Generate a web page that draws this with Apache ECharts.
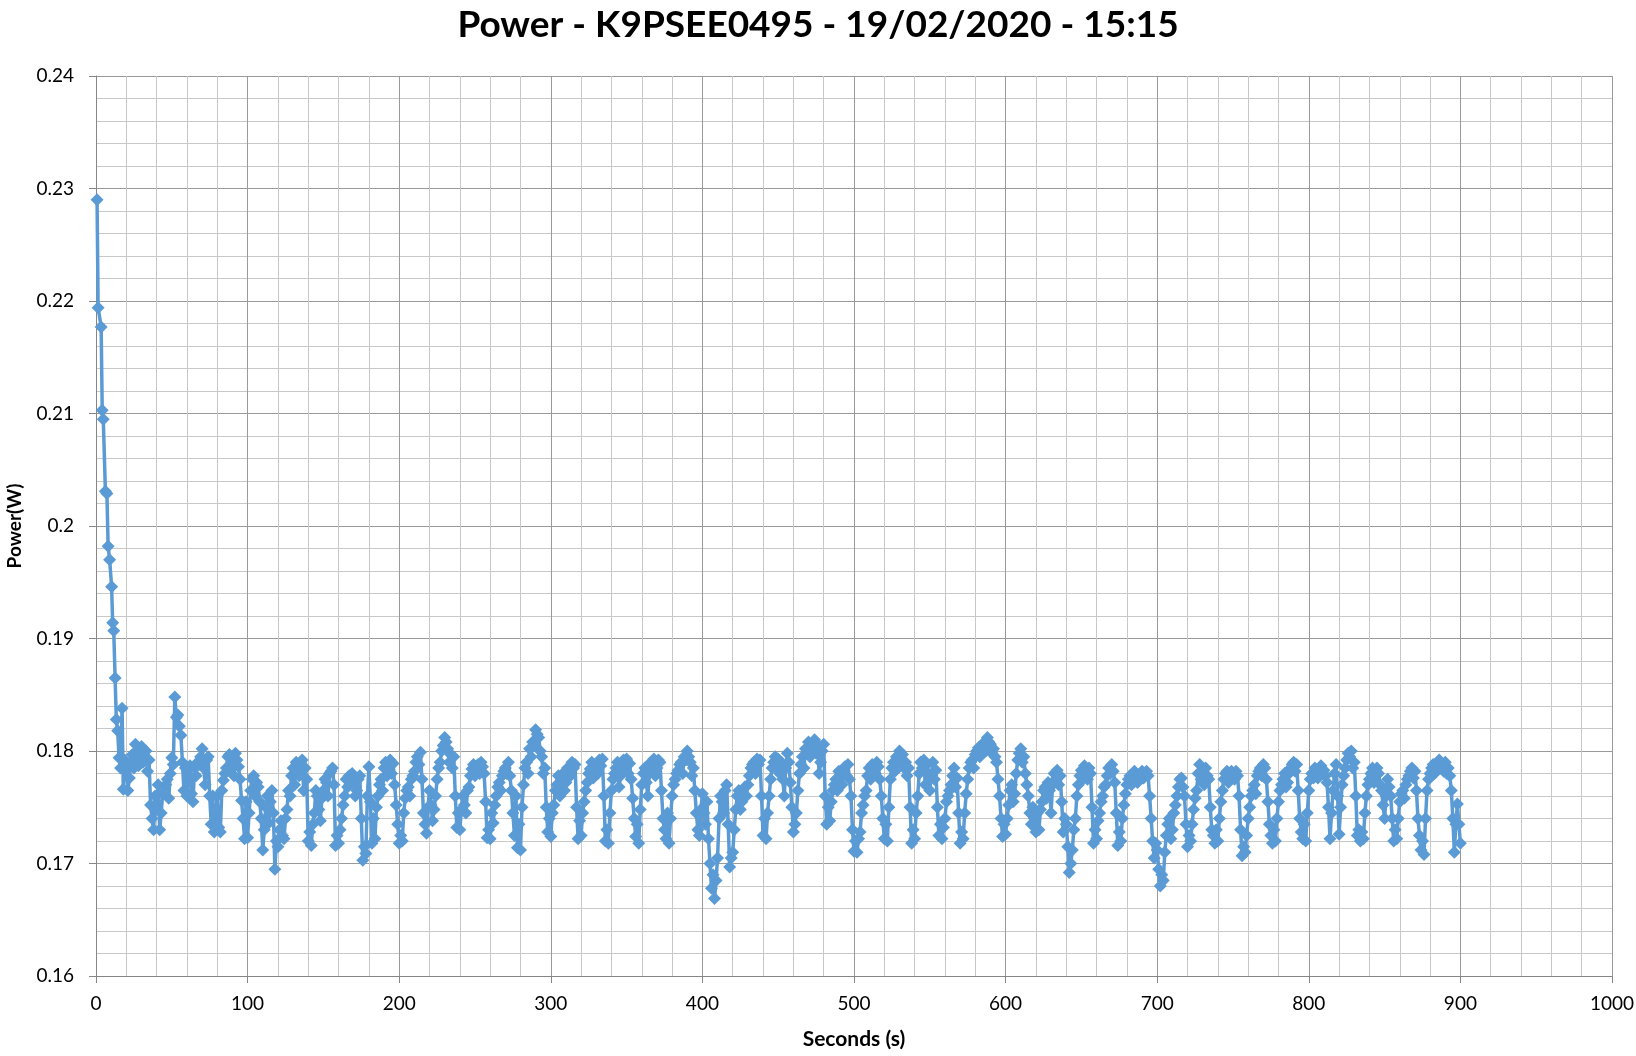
<!DOCTYPE html>
<html>
<head>
<meta charset="utf-8">
<script src="https://cdn.jsdelivr.net/npm/echarts@6/dist/echarts.min.js"></script>
<style>
html,body{margin:0;padding:0;background:#fff;}
#chart{width:1636px;height:1056px;}
</style>
</head>
<body>
<div id="chart"></div>
<script>
const chartTitle = 'Power - K9PSEE0495 - 19/02/2020 - 15:15';
const xAxisName = 'Seconds (s)';
const yAxisName = 'Power(W)';

const seconds = [
  0.7,1.4,3.4,4.1,4.8,6.2,7.2,8.0,9.0,10.3,11.0,11.7,12.6,13.4,14.3,15.2,16.2,17.2,
  18,19,20,21,22,23,24,25,26,27,28,29,30,31,32,33,34,35,36,37,
  38,39,40,41,42,43,44,45,46,47,48,49,50,51,52,53,54,55,56,57,
  58,59,60,61,62,63,64,65,66,67,68,69,70,71,72,73,74,75,76,77,
  78,79,80,81,82,83,84,85,86,87,88,89,90,91,92,93,94,95,96,97,
  98,99,100,101,102,103,104,105,106,107,108,109,110,111,112,113,114,115,116,117,
  118,119,120,121,122,123,124,125,126,127,128,129,130,131,132,133,134,135,136,137,
  138,139,140,141,142,143,144,145,146,147,148,149,150,151,152,153,154,155,156,157,
  158,159,160,161,162,163,164,165,166,167,168,169,170,171,172,173,174,175,176,177,
  178,179,180,181,182,183,184,185,186,187,188,189,190,191,192,193,194,195,196,197,
  198,199,200,201,202,203,204,205,206,207,208,209,210,211,212,213,214,215,216,217,
  218,219,220,221,222,223,224,225,226,227,228,229,230,231,232,233,234,235,236,237,
  238,239,240,241,242,243,244,245,246,247,248,249,250,251,252,253,254,255,256,257,
  258,259,260,261,262,263,264,265,266,267,268,269,270,271,272,273,274,275,276,277,
  278,279,280,281,282,283,284,285,286,287,288,289,290,291,292,293,294,295,296,297,
  298,299,300,301,302,303,304,305,306,307,308,309,310,311,312,313,314,315,316,317,
  318,319,320,321,322,323,324,325,326,327,328,329,330,331,332,333,334,335,336,337,
  338,339,340,341,342,343,344,345,346,347,348,349,350,351,352,353,354,355,356,357,
  358,359,360,361,362,363,364,365,366,367,368,369,370,371,372,373,374,375,376,377,
  378,379,380,381,382,383,384,385,386,387,388,389,390,391,392,393,394,395,396,397,
  398,399,400,401,402,403,404,405,406,407,408,409,410,411,412,413,414,415,416,417,
  418,419,420,421,422,423,424,425,426,427,428,429,430,431,432,433,434,435,436,437,
  438,439,440,441,442,443,444,445,446,447,448,449,450,451,452,453,454,455,456,457,
  458,459,460,461,462,463,464,465,466,467,468,469,470,471,472,473,474,475,476,477,
  478,479,480,481,482,483,484,485,486,487,488,489,490,491,492,493,494,495,496,497,
  498,499,500,501,502,503,504,505,506,507,508,509,510,511,512,513,514,515,516,517,
  518,519,520,521,522,523,524,525,526,527,528,529,530,531,532,533,534,535,536,537,
  538,539,540,541,542,543,544,545,546,547,548,549,550,551,552,553,554,555,556,557,
  558,559,560,561,562,563,564,565,566,567,568,569,570,571,572,573,574,575,576,577,
  578,579,580,581,582,583,584,585,586,587,588,589,590,591,592,593,594,595,596,597,
  598,599,600,601,602,603,604,605,606,607,608,609,610,611,612,613,614,615,616,617,
  618,619,620,621,622,623,624,625,626,627,628,629,630,631,632,633,634,635,636,637,
  638,639,640,641,642,643,644,645,646,647,648,649,650,651,652,653,654,655,656,657,
  658,659,660,661,662,663,664,665,666,667,668,669,670,671,672,673,674,675,676,677,
  678,679,680,681,682,683,684,685,686,687,688,689,690,691,692,693,694,695,696,697,
  698,699,700,701,702,703,704,705,706,707,708,709,710,711,712,713,714,715,716,717,
  718,719,720,721,722,723,724,725,726,727,728,729,730,731,732,733,734,735,736,737,
  738,739,740,741,742,743,744,745,746,747,748,749,750,751,752,753,754,755,756,757,
  758,759,760,761,762,763,764,765,766,767,768,769,770,771,772,773,774,775,776,777,
  778,779,780,781,782,783,784,785,786,787,788,789,790,791,792,793,794,795,796,797,
  798,799,800,801,802,803,804,805,806,807,808,809,810,811,812,813,814,815,816,817,
  818,819,820,821,822,823,824,825,826,827,828,829,830,831,832,833,834,835,836,837,
  838,839,840,841,842,843,844,845,846,847,848,849,850,851,852,853,854,855,856,857,
  858,859,860,861,862,863,864,865,866,867,868,869,870,871,872,873,874,875,876,877,
  878,879,880,881,882,883,884,885,886,887,888,889,890,891,892,893,894,895,896,897,
  898,899,900
];

const power = [
  0.2290,0.2194,0.2177,0.2103,0.2095,0.2031,0.2029,0.1982,0.1970,0.1946,0.1914,0.1907,0.1865,0.1828,0.1818,0.1794,0.1785,0.1838,
  // 18 - 92
  0.1766,0.1792,0.1788,0.1765,0.1776,0.1790,0.1797,0.1785,0.1806,0.1798,
  0.1787,0.1800,0.1804,0.1790,0.1795,0.1800,0.1782,0.1792,0.1752,0.1740,
  0.1730,0.1760,0.1748,0.1770,0.1730,0.1745,0.1762,0.1768,0.1770,0.1775,
  0.1758,0.1780,0.1794,0.1788,0.1848,0.1830,0.1832,0.1822,0.1814,0.1790,
  0.1765,0.1785,0.1760,0.1778,0.1787,0.1762,0.1755,0.1785,0.1778,0.1790,
  0.1788,0.1795,0.1802,0.1785,0.1770,0.1792,0.1795,0.1760,0.1735,0.1760,
  0.1728,0.1745,0.1760,0.1732,0.1728,0.1765,0.1774,0.1780,0.1785,0.1795,
  0.1797,0.1785,0.1790,0.1778,0.1798,
  // 93 - 180
  0.1792,0.1786,0.1775,0.1756,0.1740,0.1722,0.1755,0.1723,0.1745,0.1765,
  0.1775,0.1778,0.1760,0.1772,0.1768,0.1755,0.1740,0.1712,0.1730,0.1750,
  0.1760,0.1736,0.1755,0.1765,0.1745,0.1695,0.1720,0.1715,0.1730,0.1738,
  0.1725,0.1722,0.1740,0.1748,0.1765,0.1760,0.1778,0.1785,0.1770,0.1790,
  0.1788,0.1778,0.1790,0.1792,0.1765,0.1785,0.1775,0.1720,0.1728,0.1716,
  0.1735,0.1745,0.1765,0.1760,0.1748,0.1738,0.1758,0.1765,0.1775,0.1772,
  0.1760,0.1780,0.1782,0.1785,0.1770,0.1716,0.1725,0.1718,0.1730,0.1740,
  0.1752,0.1760,0.1775,0.1768,0.1778,0.1772,0.1780,0.1777,0.1760,0.1765,
  0.1775,0.1778,0.1740,0.1703,0.1715,0.1709,0.1760,0.1786,
  // 181 - 272
  0.1755,0.1718,0.1740,0.1722,0.1750,0.1760,0.1770,0.1775,0.1765,0.1785,
  0.1790,0.1778,0.1788,0.1792,0.1780,0.1789,0.1770,0.1752,0.1735,0.1718,
  0.1725,0.1720,0.1745,0.1758,0.1765,0.1768,0.1760,0.1775,0.1778,0.1782,
  0.1790,0.1795,0.1788,0.1799,0.1775,0.1745,0.1735,0.1727,0.1750,0.1765,
  0.1752,0.1738,0.1748,0.1760,0.1775,0.1785,0.1790,0.1800,0.1805,0.1812,
  0.1808,0.1802,0.1790,0.1797,0.1785,0.1795,0.1760,0.1732,0.1745,0.1730,
  0.1748,0.1760,0.1752,0.1745,0.1765,0.1768,0.1778,0.1784,0.1788,0.1778,
  0.1785,0.1788,0.1780,0.1790,0.1786,0.1780,0.1755,0.1723,0.1730,0.1722,
  0.1745,0.1736,0.1752,0.1760,0.1768,0.1772,0.1765,0.1778,0.1782,0.1785,
  0.1780,0.1790,
  // 273 - 362
  0.1778,0.1765,0.1745,0.1725,0.1760,0.1714,0.1735,0.1712,0.1750,0.1770,
  0.1785,0.1790,0.1780,0.1802,0.1795,0.1808,0.1805,0.1819,0.1815,0.1812,
  0.1800,0.1795,0.1780,0.1785,0.1750,0.1728,0.1740,0.1724,0.1745,0.1752,
  0.1765,0.1770,0.1778,0.1760,0.1775,0.1780,0.1765,0.1772,0.1785,0.1782,
  0.1778,0.1790,0.1785,0.1788,0.1750,0.1722,0.1738,0.1725,0.1745,0.1755,
  0.1765,0.1772,0.1780,0.1784,0.1790,0.1776,0.1785,0.1788,0.1780,0.1792,
  0.1787,0.1793,0.1760,0.1720,0.1730,0.1718,0.1745,0.1765,0.1775,0.1780,
  0.1785,0.1790,0.1768,0.1778,0.1788,0.1792,0.1785,0.1793,0.1780,0.1789,
  0.1775,0.1758,0.1740,0.1724,0.1735,0.1718,0.1748,0.1770,0.1780,0.1785,
  // 363 - 452
  0.1772,0.1760,0.1780,0.1790,0.1785,0.1793,0.1778,0.1785,0.1792,0.1790,
  0.1765,0.1740,0.1730,0.1722,0.1745,0.1718,0.1740,0.1760,0.1770,0.1775,
  0.1780,0.1783,0.1788,0.1790,0.1780,0.1795,0.1792,0.1800,0.1795,0.1790,
  0.1778,0.1785,0.1765,0.1745,0.1730,0.1725,0.1748,0.1762,0.1745,0.1735,
  0.1755,0.1722,0.1700,0.1678,0.1690,0.1669,0.1685,0.1705,0.1740,0.1760,
  0.1755,0.1745,0.1765,0.1770,0.1735,0.1697,0.1705,0.1710,0.1730,0.1748,
  0.1760,0.1765,0.1748,0.1755,0.1762,0.1768,0.1760,0.1770,0.1778,0.1785,
  0.1788,0.1790,0.1780,0.1793,0.1788,0.1792,0.1760,0.1725,0.1740,0.1722,
  0.1745,0.1760,0.1775,0.1785,0.1790,0.1795,0.1785,0.1793,0.1780,0.1790,
  // 453 - 542
  0.1775,0.1760,0.1785,0.1798,0.1790,0.1772,0.1750,0.1728,0.1735,0.1745,
  0.1765,0.1780,0.1788,0.1795,0.1785,0.1802,0.1798,0.1808,0.1795,0.1800,
  0.1805,0.1810,0.1798,0.1806,0.1780,0.1790,0.1800,0.1806,0.1760,0.1735,
  0.1750,0.1738,0.1755,0.1765,0.1770,0.1775,0.1765,0.1782,0.1778,0.1770,
  0.1780,0.1786,0.1778,0.1788,0.1775,0.1760,0.1730,0.1711,0.1720,0.1710,
  0.1722,0.1728,0.1745,0.1752,0.1760,0.1765,0.1778,0.1785,0.1775,0.1788,
  0.1784,0.1780,0.1790,0.1786,0.1775,0.1760,0.1740,0.1722,0.1735,0.1720,
  0.1750,0.1775,0.1785,0.1790,0.1782,0.1795,0.1790,0.1800,0.1792,0.1797,
  0.1785,0.1790,0.1778,0.1785,0.1750,0.1718,0.1730,0.1722,0.1745,0.1760,
  // 543 - 634
  0.1780,0.1790,0.1785,0.1792,0.1770,0.1788,0.1780,0.1765,0.1778,0.1790,
  0.1775,0.1783,0.1750,0.1725,0.1735,0.1722,0.1732,0.1740,0.1755,0.1760,
  0.1765,0.1770,0.1778,0.1785,0.1768,0.1776,0.1745,0.1718,0.1728,0.1722,
  0.1745,0.1762,0.1775,0.1785,0.1790,0.1792,0.1785,0.1797,0.1800,0.1803,
  0.1795,0.1800,0.1805,0.1808,0.1800,0.1812,0.1808,0.1806,0.1798,0.1802,
  0.1795,0.1790,0.1775,0.1760,0.1740,0.1724,0.1735,0.1726,0.1740,0.1752,
  0.1765,0.1770,0.1755,0.1762,0.1780,0.1792,0.1798,0.1802,0.1790,0.1795,
  0.1780,0.1770,0.1760,0.1745,0.1735,0.1750,0.1740,0.1728,0.1745,0.1730,
  0.1748,0.1755,0.1765,0.1768,0.1758,0.1772,0.1765,0.1745,0.1770,0.1780,
  0.1775,0.1783,
  // 635 - 724
  0.1770,0.1778,0.1755,0.1728,0.1740,0.1735,0.1715,0.1692,0.1700,0.1712,
  0.1730,0.1740,0.1760,0.1770,0.1778,0.1783,0.1775,0.1787,0.1780,0.1775,
  0.1785,0.1780,0.1750,0.1718,0.1730,0.1722,0.1738,0.1745,0.1755,0.1760,
  0.1768,0.1770,0.1778,0.1785,0.1780,0.1788,0.1782,0.1772,0.1745,0.1716,
  0.1728,0.1720,0.1740,0.1752,0.1762,0.1770,0.1775,0.1778,0.1770,0.1775,
  0.1782,0.1780,0.1772,0.1778,0.1780,0.1782,0.1776,0.1780,0.1782,0.1778,
  0.1760,0.1740,0.1720,0.1705,0.1718,0.1712,0.1695,0.1680,0.1690,0.1685,
  0.1710,0.1725,0.1735,0.1740,0.1722,0.1730,0.1745,0.1752,0.1760,0.1768,
  0.1775,0.1776,0.1768,0.1760,0.1735,0.1715,0.1725,0.1720,0.1735,0.1748,
  // 725 - 814
  0.1758,0.1765,0.1780,0.1788,0.1775,0.1780,0.1770,0.1785,0.1778,0.1775,
  0.1750,0.1730,0.1725,0.1718,0.1730,0.1720,0.1740,0.1755,0.1765,0.1775,
  0.1780,0.1782,0.1772,0.1778,0.1782,0.1780,0.1775,0.1782,0.1778,0.1760,
  0.1730,0.1707,0.1715,0.1710,0.1725,0.1740,0.1750,0.1760,0.1765,0.1770,
  0.1762,0.1778,0.1782,0.1785,0.1778,0.1788,0.1785,0.1775,0.1755,0.1735,
  0.1725,0.1718,0.1730,0.1720,0.1740,0.1755,0.1765,0.1770,0.1775,0.1780,
  0.1768,0.1772,0.1780,0.1785,0.1788,0.1790,0.1782,0.1788,0.1765,0.1740,
  0.1728,0.1722,0.1735,0.1720,0.1745,0.1765,0.1775,0.1780,0.1776,0.1785,
  0.1782,0.1776,0.1783,0.1787,0.1780,0.1783,0.1778,0.1772,0.1750,0.1722,
  // 815 - 900
  0.1745,0.1765,0.1780,0.1788,0.1760,0.1726,0.1750,0.1770,0.1778,0.1785,
  0.1792,0.1798,0.1795,0.1800,0.1785,0.1790,0.1760,0.1725,0.1730,0.1720,
  0.1728,0.1722,0.1745,0.1760,0.1770,0.1775,0.1780,0.1785,0.1772,0.1778,
  0.1785,0.1780,0.1770,0.1765,0.1752,0.1740,0.1760,0.1775,0.1768,0.1760,
  0.1740,0.1720,0.1730,0.1722,0.1740,0.1755,0.1762,0.1765,0.1758,0.1770,
  0.1775,0.1778,0.1782,0.1785,0.1776,0.1782,0.1765,0.1740,0.1725,0.1712,
  0.1720,0.1708,0.1740,0.1765,0.1775,0.1780,0.1785,0.1788,0.1780,0.1785,
  0.1790,0.1792,0.1785,0.1788,0.1782,0.1790,0.1780,0.1785,0.1778,0.1765,
  0.1740,0.1710,0.1735,0.1753,0.1735,0.1718
];

const xMin = 0, xMax = 1000, xStep = 100;
const yMin = 0.16, yMax = 0.24, yStep = 0.01;

const n = Math.min(seconds.length, power.length);
const seriesData = [];
for (let i = 0; i < n; i++) seriesData.push([seconds[i], power[i]]);

const chart = echarts.init(document.getElementById('chart'), null, {renderer: 'canvas'});
const font = 'Lato, "Open Sans", sans-serif';
chart.setOption({
  animation: false,
  backgroundColor: '#ffffff',
  title: {
    text: chartTitle,
    left: 'center',
    top: 2,
    textStyle: {fontFamily: font, fontWeight: 'bold', fontSize: 37, color: '#000'}
  },
  grid: {left: 96, right: 24, top: 76, bottom: 80, containLabel: false, outerBoundsMode: 'none'},
  xAxis: {
    type: 'value', min: xMin, max: xMax, interval: xStep,
    name: xAxisName, nameLocation: 'middle', nameGap: 53,
    nameTextStyle: {fontFamily: font, fontWeight: 'bold', fontSize: 21, color: '#000'},
    axisLine: {show: true, lineStyle: {color: '#868686', width: 1}},
    axisTick: {show: true, length: 7, lineStyle: {color: '#868686'}},
    axisLabel: {fontFamily: font, fontSize: 19, color: '#000', margin: 18,
      formatter: v => String(v)},
    splitLine: {show: true, lineStyle: {color: '#9a9a9a', width: 1}},
    minorTick: {show: false, splitNumber: 5},
    minorSplitLine: {show: true, lineStyle: {color: '#c8c8c8', width: 1}}
  },
  yAxis: {
    type: 'value', min: yMin, max: yMax, interval: yStep,
    name: yAxisName, nameLocation: 'middle', nameGap: 72, nameRotate: 90,
    nameTextStyle: {fontFamily: font, fontWeight: 'bold', fontSize: 19, color: '#000'},
    axisLine: {show: true, lineStyle: {color: '#868686', width: 1}},
    axisTick: {show: true, length: 7, lineStyle: {color: '#868686'}},
    axisLabel: {fontFamily: font, fontSize: 19, color: '#000', margin: 22},
    splitLine: {show: true, lineStyle: {color: '#9a9a9a', width: 1}},
    minorTick: {show: false, splitNumber: 5},
    minorSplitLine: {show: true, lineStyle: {color: '#c8c8c8', width: 1}}
  },
  series: [{
    type: 'line',
    data: seriesData,
    symbol: 'diamond',
    symbolSize: 13,
    showAllSymbol: true,
    lineStyle: {color: '#5B9BD5', width: 3.5},
    itemStyle: {color: '#5B9BD5'},
    emphasis: {disabled: true}
  }]
});
</script>
</body>
</html>
